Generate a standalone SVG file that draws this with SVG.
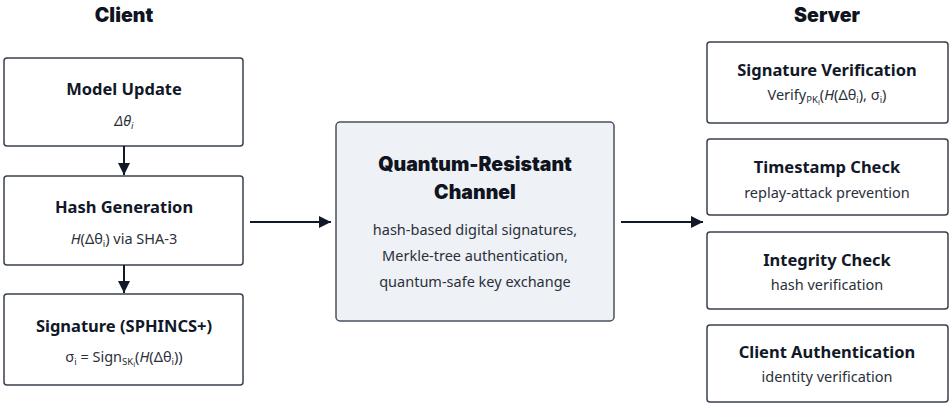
<svg xmlns="http://www.w3.org/2000/svg" width="952" height="407" viewBox="0 0 952 407">
<defs>
<style>
.box{fill:#ffffff;stroke:#3a414d;stroke-width:1.5}
.ch{fill:#eef1f6;stroke:#4a515c;stroke-width:1.5}
.t{font-family:"Noto Sans","Open Sans",sans-serif;font-weight:700;font-size:16.5px;fill:#111827;text-anchor:middle}
.s{font-family:"Noto Sans","Open Sans",sans-serif;font-size:14.5px;fill:#2b303a;text-anchor:middle}
.h{font-family:"Inter","Noto Sans",sans-serif;font-weight:900;font-size:19.5px;fill:#0f1420;text-anchor:middle}
.c{font-family:"Noto Sans","Open Sans",sans-serif;font-size:14.5px;fill:#2b303a;text-anchor:middle}
.sub{font-size:9.5px}
.sub2{font-size:7.5px}
.con{stroke:#111827;stroke-width:2;fill:none}
</style>
<marker id="ah" viewBox="0 0 10 10" refX="10" refY="5" markerWidth="6" markerHeight="6" orient="auto" markerUnits="strokeWidth">
<path d="M0,0 L10,5 L0,10 z" fill="#111827"/>
</marker>
</defs>
<rect width="952" height="407" fill="#ffffff"/>
<text class="h" x="124" y="22">Client</text>
<text class="h" x="827" y="22">Server</text>

<g id="model-update">
<rect class="box" x="4" y="58" width="239" height="88" rx="3"/>
<text class="t" x="124" y="95">Model Update</text>
<text class="s" x="124" y="126" font-style="italic">Δθ<tspan class="sub" dy="3">i</tspan></text>
</g>
<g id="hash-generation">
<rect class="box" x="4" y="176" width="239" height="89" rx="3"/>
<text class="t" x="124" y="213"><tspan>Hash Generation</tspan></text>
<text class="s" x="124" y="244"><tspan font-style="italic">H</tspan>(Δθ<tspan class="sub" dy="3">i</tspan><tspan dy="-3">) via SHA-3</tspan></text>
</g>
<g id="signature">
<rect class="box" x="4" y="294" width="239" height="91" rx="3"/>
<text class="t" x="124" y="332">Signature (SPHINCS+)</text>
<text class="s" x="124" y="362">σ<tspan class="sub" dy="3">i</tspan><tspan dy="-3"> = Sign</tspan><tspan class="sub" dy="3">SK</tspan><tspan class="sub2" dy="2">i</tspan><tspan dy="-5">(</tspan><tspan font-style="italic">H</tspan>(Δθ<tspan class="sub" dy="3">i</tspan><tspan dy="-3">))</tspan></text>
</g>

<g id="channel">
<rect class="ch" x="336" y="122" width="278" height="199" rx="4"/>
<text class="h" x="475" y="171">Quantum-Resistant</text>
<text class="h" x="475" y="199">Channel</text>
<text class="c" x="475" y="235">hash-based digital signatures,</text>
<text class="c" x="475" y="261">Merkle-tree authentication,</text>
<text class="c" x="475" y="287">quantum-safe key exchange</text>
</g>

<g id="signature-verification">
<rect class="box" x="707" y="42" width="241" height="81" rx="3"/>
<text class="t" x="827" y="76">Signature Verification</text>
<text class="s" x="827" y="100">Verify<tspan class="sub" dy="3">PK</tspan><tspan class="sub2" dy="2">i</tspan><tspan dy="-5">(</tspan><tspan font-style="italic">H</tspan>(Δθ<tspan class="sub" dy="3">i</tspan><tspan dy="-3">), σ</tspan><tspan class="sub" dy="3">i</tspan><tspan dy="-3">)</tspan></text>
</g>
<g id="timestamp-check">
<rect class="box" x="707" y="139" width="241" height="76" rx="3"/>
<text class="t" x="827" y="173">Timestamp Check</text>
<text class="s" x="827" y="198">replay-attack prevention</text>
</g>
<g id="integrity-check">
<rect class="box" x="707" y="232" width="241" height="77" rx="3"/>
<text class="t" x="827" y="266">Integrity Check</text>
<text class="s" x="827" y="290">hash verification</text>
</g>
<g id="client-authentication">
<rect class="box" x="707" y="325" width="241" height="77" rx="3"/>
<text class="t" x="827" y="358">Client Authentication</text>
<text class="s" x="827" y="382">identity verification</text>
</g>

<g id="connectors">
<line class="con" x1="124" y1="146" x2="124" y2="175" marker-end="url(#ah)"/>
<line class="con" x1="124" y1="265" x2="124" y2="293" marker-end="url(#ah)"/>
<line class="con" x1="250" y1="222" x2="331" y2="222" marker-end="url(#ah)"/>
<line class="con" x1="621" y1="222" x2="703" y2="222" marker-end="url(#ah)"/>
</g>
</svg>
